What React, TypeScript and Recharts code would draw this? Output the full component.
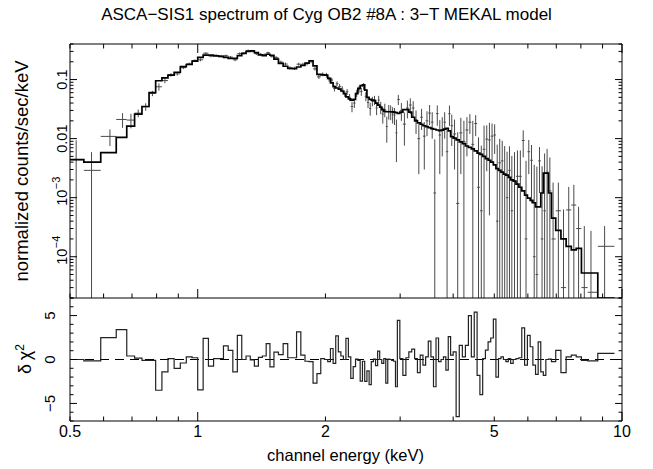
import React from "react";
import { ComposedChart, Line, Scatter, ErrorBar, XAxis, YAxis, ReferenceLine } from "recharts";

// channel energies (keV), bin centres
const energy = [
  0.517, 0.562, 0.621, 0.665, 0.696, 0.724, 0.754, 0.782, 0.81, 0.837, 0.865, 0.895,
  0.925, 0.955, 0.985, 1.015, 1.045, 1.075, 1.105, 1.135, 1.165, 1.195, 1.225, 1.255, 1.285, 1.315, 1.345, 1.375, 1.405, 1.435, 1.465, 1.495,
  1.53, 1.57, 1.61, 1.65, 1.69, 1.73, 1.77, 1.81, 1.85, 1.89, 1.93, 1.97,
  2.01, 2.04, 2.07, 2.1, 2.13, 2.16, 2.19, 2.22, 2.25, 2.28, 2.31, 2.34, 2.37, 2.4, 2.43, 2.46, 2.49, 2.52, 2.55, 2.58, 2.61, 2.64, 2.67, 2.7, 2.73, 2.76, 2.79, 2.82, 2.85, 2.88, 2.91, 2.94, 2.97,
  3.02, 3.07, 3.12, 3.17, 3.22, 3.27, 3.32, 3.37, 3.42, 3.47, 3.52, 3.57, 3.62, 3.67, 3.72, 3.77, 3.82, 3.87, 3.92, 3.97,
  4.03, 4.1, 4.17, 4.24, 4.31, 4.38, 4.45, 4.52, 4.59, 4.66, 4.73, 4.8, 4.87, 4.94, 5.01, 5.08, 5.15, 5.22, 5.29, 5.36, 5.43, 5.5,
  5.58, 5.67, 5.76, 5.85, 5.94, 6.03, 6.12, 6.21, 6.3, 6.39, 6.48, 6.57, 6.66, 6.76, 6.88,
  7.08, 7.28, 7.49, 7.7, 7.9, 8.15, 8.45, 9.1,
];

// observed rate, normalized counts/sec/keV
const counts = [
  0.0044, 0.0029, 0.0109, 0.0211, 0.0206, 0.027, 0.0346, 0.0583, 0.0755, 0.096, 0.12, 0.125,
  0.159, 0.185, 0.21, 0.216, 0.279, 0.25, 0.256, 0.249, 0.253, 0.24, 0.216, 0.275, 0.279, 0.309, 0.303, 0.274, 0.268, 0.263, 0.284, 0.247,
  0.235, 0.197, 0.183, 0.157, 0.155, 0.182, 0.181, 0.186, 0.202, 0.152, 0.111, 0.123,
  0.119, 0.102, 0.098, 0.071, 0.085, 0.076, 0.069, 0.058, 0.062, 0.05, 0.035, 0.04, 0.059, 0.069, 0.063, 0.077, 0.052, 0.041, 0.0325, 0.043, 0.045, 0.033, 0.045, 0.034, 0.026, 0.031, 0.016, 0.029, 0.0285, 0.026, 0.025, 0.0125, 0.046,
  0.03, 0.0176, 0.033, 0.037, 0.033, 0.021, 0.01, 0.023, 0.011, 0.02, 0.027, 0.019, 0.0012, 0.0265, 0.0115, 0.014, 0.019, 0.006, 0.0264, 0.0165,
  0.012, 0.0008, 0.0125, 0.009, 0.014, 0.019, 0.008, 0.018, 0.0015, 0.0006, 0.0066, 0.0098, 0.0095, 0.011, 0.0115, 0.0004, 0.0039, 0.0042, 0.0025, 0.001, 0.0029, 0.0006,
  0.0019, 0.0023, 0.0023, 0.0093, 0.0002, 0.006, 0.0043, 0.0001, 0.00005, 0.0042, 0.0002, 0.0006, 0.0027, 0.0013, 0.0002,
  0.0006, 0.00003, 0.00062, 0.00075, 0.0003, 0.00003, 0.000025, 0.00015,
];

// 1-sigma errors on the rate
const countErr = [
  0.005, 0.003, 0.0034, 0.0059, 0.0057, 0.004, 0.005, 0.006, 0.0106, 0.0093, 0.008, 0.008,
  0.009, 0.009, 0.01, 0.012, 0.012, 0.012, 0.012, 0.012, 0.012, 0.011, 0.011, 0.012, 0.013, 0.014, 0.014, 0.013, 0.012, 0.012, 0.012, 0.012,
  0.014, 0.012, 0.011, 0.01, 0.01, 0.011, 0.011, 0.012, 0.013, 0.011, 0.009, 0.009,
  0.011, 0.01, 0.009, 0.008, 0.008, 0.008, 0.008, 0.007, 0.007, 0.007, 0.007, 0.007, 0.008, 0.009, 0.01, 0.01, 0.009, 0.008, 0.008, 0.008, 0.008, 0.008, 0.008, 0.008, 0.008, 0.008, 0.0075, 0.008, 0.008, 0.008, 0.008, 0.0085, 0.009,
  0.01, 0.01, 0.011, 0.011, 0.01, 0.009, 0.0075, 0.009, 0.008, 0.009, 0.01, 0.009, 0.0085, 0.01, 0.009, 0.009, 0.009, 0.008, 0.01, 0.009,
  0.009, 0.012, 0.01, 0.011, 0.009, 0.007, 0.012, 0.007, 0.009, 0.007, 0.01, 0.007, 0.009, 0.007, 0.006, 0.0075, 0.006, 0.005, 0.005, 0.005, 0.0045, 0.0045,
  0.004, 0.004, 0.004, 0.0045, 0.004, 0.0035, 0.0035, 0.0035, 0.0033, 0.003, 0.0032, 0.005, 0.004, 0.0035, 0.0016,
  0.0012, 0.0006, 0.0009, 0.0009, 0.0004, 0.0003, 0.00025, 0.00018,
];

// 3-T MEKAL model folded through the response
const model = [
  0.0044, 0.004, 0.0058, 0.0105, 0.0163, 0.026, 0.035, 0.06, 0.0955, 0.107, 0.119, 0.133,
  0.165, 0.18, 0.205, 0.238, 0.26, 0.26, 0.252, 0.246, 0.238, 0.229, 0.229, 0.255, 0.278, 0.3, 0.305, 0.285, 0.262, 0.255, 0.268, 0.258,
  0.222, 0.188, 0.168, 0.155, 0.153, 0.163, 0.173, 0.19, 0.208, 0.17, 0.122, 0.12,
  0.119, 0.105, 0.088, 0.076, 0.072, 0.069, 0.064, 0.058, 0.051, 0.047, 0.045, 0.046, 0.058, 0.071, 0.079, 0.081, 0.066, 0.05, 0.046, 0.045, 0.044, 0.04, 0.037, 0.034, 0.031, 0.029, 0.0285, 0.0285, 0.0285, 0.0284, 0.028, 0.0275, 0.0268,
  0.028, 0.031, 0.031, 0.028, 0.023, 0.02, 0.0185, 0.0175, 0.0165, 0.0159, 0.0153, 0.0148, 0.0144, 0.014, 0.0137, 0.0139, 0.0145, 0.0149, 0.0135, 0.0108,
  0.0102, 0.0095, 0.0088, 0.0082, 0.0075, 0.0071, 0.0067, 0.0062, 0.0057, 0.0054, 0.005, 0.0046, 0.0043, 0.004, 0.0036, 0.0031, 0.0029, 0.0027, 0.0025, 0.0024, 0.0022, 0.002,
  0.0019, 0.0017, 0.0015, 0.0013, 0.0011, 0.00098, 0.0009, 0.00082, 0.0007, 0.0007, 0.0012, 0.0026, 0.0026, 0.0012, 0.00045,
  0.00028, 0.0002, 0.00015, 0.000131, 0.000138, 0.000053, 0.000053, 0.00001,
];

// signed delta chi^2 per bin
const delChi = [
  0, -0.15, 2.5, 3.4, 0.4, 0.15, -0.1, -0.1, -3.5, -1.4, 0.1, -1,
  -0.4, 0.3, 0.2, -3.45, 2.4, -0.75, 0.1, 0.1, 1.55, 1.05, -1.4, 2.75, 0, 0.4, -0.05, -0.75, 0.25, 0.4, 1.8, -0.85,
  0.85, 0.55, 1.8, 0.2, 0.2, 3.15, 0.5, -0.2, -0.25, -2.7, -1.6, 0.1,
  0, -0.25, 1.25, -0.45, 2.7, 0.87, 0.4, 0, 2.4, 0.3, -2.15, -0.8, 0.05, -0.1, -2.45, -0.2, -2.5, -1.3, -2.85, -0.25, 0.05, -0.7, 0.95, 0, -0.45, 0.1, -2.7, 0.05, 0, -0.1, -0.2, -3.1, 4.45,
  0.1, -1.8, 0.2, 0.87, 1.17, 0.1, -1.5, 0.5, -0.65, 0.3, 2.1, 0.3, -3.1, 2.45, -0.25, 0, 0.3, -1.2, 2.6, 0.5,
  0.87, -6.5, 1.6, 0.3, 1.6, 5, 0.3, 5.4, -1.8, -4, 0.1, 1.06, 2, 2.45, 4.6, -2, 0.1, 0.3, 0, -0.25, 0.1, -0.45,
  0, 0.1, 0.2, 3.6, -0.65, 2.75, 1.45, -0.65, -1.7, 2, -1.4, -1.8, 0, 0.05, -0.25,
  1.05, -1.5, 0.3, 0.5, 0.3, -0.1, -0.15, 0.7,
];

const binOuterEdges = [0.5, 9.6];
const energyRange = [0.5, 10];
const countRange = [2e-5, 0.4];
const chiRange = [-7, 7];

const xTicks = [0.5, 0.6, 0.7, 0.8, 0.9, 1, 2, 3, 4, 5, 6, 7, 8, 9, 10];
const xMajorTicks = [1, 10];
const xTickLabels = [0.5, 1, 2, 5, 10];

const yTicksTop = [
  2e-5, 3e-5, 4e-5, 5e-5, 6e-5, 7e-5, 8e-5, 9e-5,
  1e-4, 2e-4, 3e-4, 4e-4, 5e-4, 6e-4, 7e-4, 8e-4, 9e-4,
  1e-3, 2e-3, 3e-3, 4e-3, 5e-3, 6e-3, 7e-3, 8e-3, 9e-3,
  0.01, 0.02, 0.03, 0.04, 0.05, 0.06, 0.07, 0.08, 0.09,
  0.1, 0.2, 0.3, 0.4,
];
const yMajorTop = [1e-4, 1e-3, 0.01, 0.1];
const yLabelTopBase = ["10", "10", "0.01", "0.1"];
const yLabelTopSup = ["\u22124", "\u22123", "", ""];

const yTicksRes = [-7, -6, -5, -4, -3, -2, -1, 0, 1, 2, 3, 4, 5, 6, 7];
const yMajorRes = [-5, 0, 5];
const yLabelRes = ["\u22125", "0", "5"];

const FONT = '"Liberation Sans", Arial, Helvetica, sans-serif';
const INK = "#000";

// bin edges: geometric midpoints between neighbouring channel centres
const edges = energy.map((e, i) => (i === 0 ? binOuterEdges[0] : Math.sqrt(energy[i - 1] * e)));
edges.push(binOuterEdges[1]);

const points = energy.map((e, i) => ({
  e,
  v: counts[i],
  ex: [e - edges[i], edges[i + 1] - e],
  ey: [counts[i] - Math.max(counts[i] - countErr[i], countRange[0]), countErr[i]],
}));

const modelSteps = edges.map((lo, i) => ({
  e: lo,
  v: Math.max(model[Math.min(i, model.length - 1)], countRange[0]),
}));

const residSteps = edges.map((lo, i) => ({ e: lo, r: delChi[Math.min(i, delChi.length - 1)] }));

type TickArg = { x: number; y: number; payload: { value: number } };

const bottomTick = (labelled: boolean) => (p: TickArg) => {
  const v = p.payload.value;
  const len = xMajorTicks.includes(v) ? 9 : 4.5;
  return (
    <g>
      <line x1={p.x} y1={p.y} x2={p.x} y2={p.y - len} stroke={INK} strokeWidth={1} />
      {labelled && xTickLabels.includes(v) ? (
        <text x={p.x} y={p.y + 16} textAnchor="middle" fontFamily={FONT} fontSize={16} fill={INK}>
          {String(v)}
        </text>
      ) : null}
    </g>
  );
};

const topTick = (p: TickArg) => {
  const len = xMajorTicks.includes(p.payload.value) ? 9 : 4.5;
  return <line x1={p.x} y1={p.y} x2={p.x} y2={p.y + len} stroke={INK} strokeWidth={1} />;
};

const leftTickTop = (p: TickArg) => {
  const k = yMajorTop.indexOf(p.payload.value);
  const len = k >= 0 ? 7 : 3.5;
  return (
    <g>
      <line x1={p.x} y1={p.y} x2={p.x + len} y2={p.y} stroke={INK} strokeWidth={1} />
      {k >= 0 ? (
        <g transform={`translate(${p.x - 3},${p.y}) rotate(-90)`} fontFamily={FONT} fill={INK}>
          <text textAnchor="middle" fontSize={14.5}>{yLabelTopBase[k]}</text>
          {yLabelTopSup[k] ? (
            <text x={8.5} y={-7} textAnchor="start" fontSize={11}>{yLabelTopSup[k]}</text>
          ) : null}
        </g>
      ) : null}
    </g>
  );
};

const rightTickTop = (p: TickArg) => {
  const len = yMajorTop.includes(p.payload.value) ? 7 : 3.5;
  return <line x1={p.x} y1={p.y} x2={p.x - len} y2={p.y} stroke={INK} strokeWidth={1} />;
};

const leftTickRes = (p: TickArg) => {
  const k = yMajorRes.indexOf(p.payload.value);
  const len = k >= 0 ? 7 : 3.5;
  return (
    <g>
      <line x1={p.x} y1={p.y} x2={p.x + len} y2={p.y} stroke={INK} strokeWidth={1} />
      {k >= 0 ? (
        <text
          transform={`translate(${p.x - 15},${p.y}) rotate(-90)`}
          textAnchor="middle"
          fontFamily={FONT}
          fontSize={15}
          fill={INK}
        >
          {yLabelRes[k]}
        </text>
      ) : null}
    </g>
  );
};

const rightTickRes = (p: TickArg) => {
  const len = yMajorRes.includes(p.payload.value) ? 7 : 3.5;
  return <line x1={p.x} y1={p.y} x2={p.x - len} y2={p.y} stroke={INK} strokeWidth={1} />;
};

const noMark = () => <g />;

// axes are 1px thick so Recharts draws them; margins keep the frame at x 70..622
function SpectrumPanel() {
  return (
    <ComposedChart width={653} height={310} margin={{ top: 43, right: 30, bottom: 11, left: 69 }}>
      <XAxis xAxisId="b" dataKey="e" type="number" scale="log" domain={energyRange} allowDataOverflow
        ticks={xTicks} interval={0} height={1} tickSize={0} tickMargin={0} tickLine={false}
        axisLine={{ stroke: INK }} tick={bottomTick(false)} />
      <XAxis xAxisId="t" orientation="top" dataKey="e" type="number" scale="log" domain={energyRange} allowDataOverflow
        ticks={xTicks} interval={0} height={1} tickSize={0} tickMargin={0} tickLine={false}
        axisLine={{ stroke: INK }} tick={topTick} />
      <YAxis yAxisId="l" dataKey="v" type="number" scale="log" domain={countRange} allowDataOverflow
        ticks={yTicksTop} interval={0} width={1} tickSize={0} tickMargin={0} tickLine={false}
        axisLine={{ stroke: INK }} tick={leftTickTop} />
      <YAxis yAxisId="r" orientation="right" dataKey="v" type="number" scale="log" domain={countRange} allowDataOverflow
        ticks={yTicksTop} interval={0} width={1} tickSize={0} tickMargin={0} tickLine={false}
        axisLine={{ stroke: INK }} tick={rightTickTop} />
      <Scatter xAxisId="b" yAxisId="l" data={points} dataKey="v" shape={noMark} isAnimationActive={false}>
        <ErrorBar dataKey="ex" direction="x" width={0} stroke="#4a4a4a" strokeWidth={1} isAnimationActive={false} />
        <ErrorBar dataKey="ey" direction="y" width={0} stroke="#4a4a4a" strokeWidth={1} isAnimationActive={false} />
      </Scatter>
      <Line xAxisId="b" yAxisId="l" data={modelSteps} dataKey="v" type="stepAfter" dot={false}
        stroke={INK} strokeWidth={1.7} isAnimationActive={false} />
    </ComposedChart>
  );
}

function ResidualPanel() {
  return (
    <ComposedChart width={653} height={469} margin={{ top: 298, right: 30, bottom: 47, left: 69 }}>
      <XAxis xAxisId="b" dataKey="e" type="number" scale="log" domain={energyRange} allowDataOverflow
        ticks={xTicks} interval={0} height={1} tickSize={0} tickMargin={0} tickLine={false}
        axisLine={{ stroke: INK }} tick={bottomTick(true)} />
      <YAxis yAxisId="l" dataKey="r" type="number" domain={chiRange} allowDataOverflow
        ticks={yTicksRes} interval={0} width={1} tickSize={0} tickMargin={0} tickLine={false}
        axisLine={{ stroke: INK }} tick={leftTickRes} />
      <YAxis yAxisId="r" orientation="right" dataKey="r" type="number" domain={chiRange} allowDataOverflow
        ticks={yTicksRes} interval={0} width={1} tickSize={0} tickMargin={0} tickLine={false}
        axisLine={{ stroke: INK }} tick={rightTickRes} />
      <ReferenceLine xAxisId="b" yAxisId="l" y={0} stroke={INK} strokeDasharray="9 6" strokeWidth={1} />
      <Line xAxisId="b" yAxisId="l" data={residSteps} dataKey="r" type="stepAfter" dot={false}
        stroke="#222" strokeWidth={1.2} isAnimationActive={false} />
    </ComposedChart>
  );
}

export default function App() {
  return (
    <div style={{ position: "absolute", left: 0, top: 0, width: 653, height: 469, background: "#fff" }}>
      <div style={{ position: "absolute", left: 0, top: 0 }}>
        <SpectrumPanel />
      </div>
      <div style={{ position: "absolute", left: 0, top: 0 }}>
        <ResidualPanel />
      </div>
      <svg width={653} height={469} style={{ position: "absolute", left: 0, top: 0, pointerEvents: "none" }}>
        <g fontFamily={FONT} fill={INK}>
          <text x={326.5} y={20} textAnchor="middle" fontSize={17}>
            ASCA{"\u2212"}SIS1 spectrum of Cyg OB2 #8A : 3{"\u2212"}T MEKAL model
          </text>
          <text x={345.5} y={461} textAnchor="middle" fontSize={16.5}>
            channel energy (keV)
          </text>
          <text transform="translate(28,171) rotate(-90)" textAnchor="middle" fontSize={18.5}>
            normalized counts/sec/keV
          </text>
          <text transform="translate(31,359) rotate(-90)" textAnchor="middle" fontSize={18}>
            {"\u03b4\u2009\u03c7"}
            <tspan dy={-7} fontSize={12}>2</tspan>
          </text>
        </g>
      </svg>
    </div>
  );
}
